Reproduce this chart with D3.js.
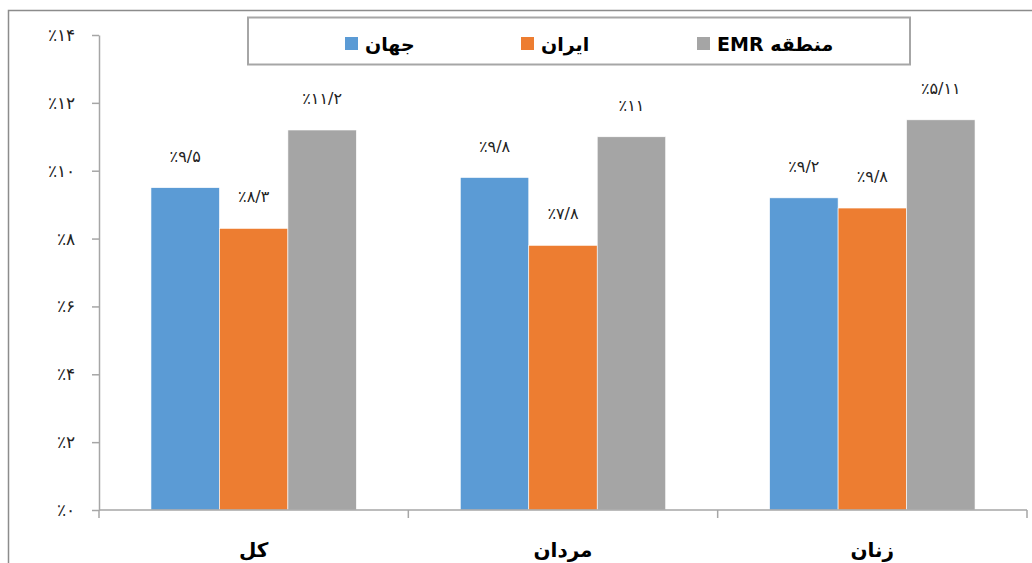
<!DOCTYPE html>
<html>
<head>
<meta charset="utf-8">
<script src="https://cdn.jsdelivr.net/npm/d3@7/dist/d3.min.js"></script>
<style>
  html, body { margin: 0; padding: 0; background: #fff; }
  svg { display: block; font-family: "DejaVu Sans", "Noto Sans", sans-serif; }
</style>
</head>
<body>
<svg id="chart" width="1032" height="563"></svg>
<script>
// Prevalence by group (percent)
const categories = ["کل", "مردان", "زنان"];
const seriesNames = ["جهان", "ایران", "منطقه EMR"];
const seriesColors = ["#5B9BD5", "#ED7D31", "#A5A5A5"];
const worldValues = [9.5, 9.8, 9.2];
const iranValues = [8.3, 7.8, 8.9];
const emrValues = [11.2, 11.0, 11.5];
const worldLabels = ["٪۹/۵", "٪۹/۸", "٪۹/۲"];
const iranLabels = ["٪۸/۳", "٪۷/۸", "٪۹/۸"];
const emrLabels = ["٪۱۱/۲", "٪۱۱", "٪۵/۱۱"];
const yTicks = [0, 2, 4, 6, 8, 10, 12, 14];

const seriesValues = [worldValues, iranValues, emrValues];
const seriesLabels = [worldLabels, iranLabels, emrLabels];

const toFa = s => String(s).replace(/\d/g, d => "۰۱۲۳۴۵۶۷۸۹"[d]);

const svg = d3.select("#chart");
const plotLeft = 99, plotRight = 1027, plotTop = 35, plotBottom = 510;

// outer frame
svg.append("rect")
  .attr("x", 8.5).attr("y", 10.5)
  .attr("width", 1040).attr("height", 600)
  .attr("fill", "none").attr("stroke", "#8c8c8c").attr("stroke-width", 1.5);

const y = d3.scaleLinear().domain([0, 14]).range([plotBottom, plotTop]);
const x0 = d3.scaleBand().domain(categories).range([plotLeft, plotRight]).padding(0);
const x1 = d3.scaleBand().domain(seriesNames)
  .range([x0.bandwidth() * 0.168, x0.bandwidth() * 0.832]).padding(0);

// y axis
const yAxis = d3.axisLeft(y).tickValues(yTicks)
  .tickFormat(d => "٪" + toFa(d))
  .tickSizeInner(7).tickSizeOuter(0).tickPadding(17);
const gy = svg.append("g").attr("transform", `translate(${plotLeft},0)`).call(yAxis);
gy.select(".domain").attr("stroke", "#a6a6a6").attr("stroke-width", 1.5);
gy.selectAll(".tick line").attr("stroke", "#a6a6a6").attr("stroke-width", 1.5);
gy.selectAll(".tick text").attr("font-size", 17).attr("fill", "#222")
  .attr("direction", "ltr");

// bars
const groups = svg.append("g").selectAll("g")
  .data(categories).join("g")
  .attr("transform", d => `translate(${x0(d)},0)`);

groups.each(function(cat, ci) {
  const g = d3.select(this);
  seriesNames.forEach((s, si) => {
    const v = seriesValues[si][ci];
    g.append("rect")
      .attr("x", x1(s)).attr("y", y(v))
      .attr("width", x1.bandwidth()).attr("height", y(0) - y(v))
      .attr("fill", seriesColors[si])
      .attr("stroke", "#fff").attr("stroke-width", 0.6);
    g.append("text")
      .attr("x", x1(s) + x1.bandwidth() / 2)
      .attr("y", y(v) - 26)
      .attr("text-anchor", "middle")
      .attr("direction", "ltr")
      .attr("font-size", 16)
      .attr("fill", "#222")
      .text(seriesLabels[si][ci]);
  });
});

// x axis
const xAxisG = svg.append("g");
xAxisG.append("line")
  .attr("x1", plotLeft).attr("x2", plotRight).attr("y1", y(0)).attr("y2", y(0))
  .attr("stroke", "#a6a6a6").attr("stroke-width", 1.5);
const boundaries = categories.map(c => x0(c)).concat([plotRight]);
xAxisG.selectAll("line.tk").data(boundaries).join("line")
  .attr("class", "tk")
  .attr("x1", d => d).attr("x2", d => d)
  .attr("y1", y(0)).attr("y2", y(0) + 8)
  .attr("stroke", "#a6a6a6").attr("stroke-width", 1.5);
xAxisG.selectAll("text").data(categories).join("text")
  .attr("x", d => x0(d) + x0.bandwidth() / 2)
  .attr("y", 557)
  .attr("text-anchor", "middle")
  .attr("font-size", 20).attr("font-weight", "bold").attr("fill", "#000")
  .text(d => d);

// legend: swatch on the left, right-to-left label beside it
const legend = svg.append("g");
legend.append("rect")
  .attr("x", 248).attr("y", 17.5).attr("width", 662).attr("height", 47)
  .attr("fill", "#fff").attr("stroke", "#a6a6a6").attr("stroke-width", 2);
const legendX = [345, 521, 697];
seriesNames.forEach((s, i) => {
  legend.append("rect")
    .attr("x", legendX[i]).attr("y", 37).attr("width", 13).attr("height", 13)
    .attr("fill", seriesColors[i]);
  legend.append("text")
    .attr("x", legendX[i] + 20).attr("y", 51)
    .attr("text-anchor", "end")
    .attr("direction", "rtl")
    .attr("font-size", 19).attr("font-weight", "bold").attr("fill", "#000")
    .text(s);
});
</script>
</body>
</html>
